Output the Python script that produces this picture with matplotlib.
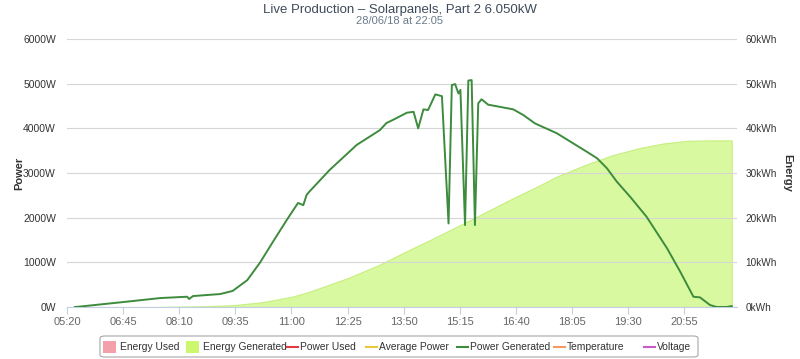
import matplotlib
matplotlib.use("Agg")
import matplotlib.pyplot as plt
from matplotlib.patches import FancyBboxPatch, Rectangle
from matplotlib.lines import Line2D

plt.rcParams['font.family'] = ['Liberation Sans', 'DejaVu Sans']

# ---- data ----
power_times = ["05:32", "05:40", "06:51", "07:41", "08:22", "08:25", "08:31", "09:12",
               "09:31", "09:53", "10:12", "10:32", "10:53", "11:10", "11:18", "11:23",
               "11:27", "11:58", "12:39", "13:14", "13:24", "13:34", "13:55", "14:05",
               "14:12", "14:20", "14:27", "14:38", "14:48", "14:58", "15:03", "15:08",
               "15:13", "15:16", "15:23", "15:28", "15:33", "15:38", "15:43", "15:48",
               "15:58", "16:36", "16:51", "17:09", "17:42", "18:27", "18:43", "18:58",
               "19:13", "19:33", "19:58", "20:29", "20:49", "21:09", "21:19", "21:34",
               "21:44", "21:59", "22:07"]
power_w = [0, 10, 120, 200, 230, 180, 245, 290,
           360, 600, 985, 1460, 1950, 2330, 2280, 2510,
           2580, 3070, 3630, 3960, 4120, 4190, 4350, 4370,
           4000, 4425, 4410, 4760, 4720, 1870, 4970, 4990,
           4780, 4860, 1835, 5070, 5080, 1835, 4560, 4650,
           4530, 4425, 4300, 4110, 3890, 3480, 3330, 3105,
           2805, 2470, 2020, 1315, 790, 230, 215, 45,
           0, 0, 20]

energy_times = ["07:41", "08:41", "09:31", "10:12", "10:32", "11:01", "11:27", "12:26",
                "13:14", "13:52", "14:30", "15:15", "15:46", "16:31", "17:17", "17:42",
                "18:25", "19:07", "19:48", "20:23", "20:59", "21:34", "22:07"]
energy_kwh = [0, 0.15, 0.4, 1.0, 1.5, 2.3, 3.4, 6.5,
              9.5, 12.3, 15.0, 18.3, 20.6, 24.0, 27.3, 29.2,
              31.8, 34.0, 35.6, 36.6, 37.2, 37.3, 37.3]

tick_labels = ["05:20", "06:45", "08:10", "09:35", "11:00", "12:25", "13:50",
               "15:15", "16:40", "18:05", "19:30", "20:55"]
power_ticks = [0, 1000, 2000, 3000, 4000, 5000, 6000]
energy_ticks = [0, 10, 20, 30, 40, 50, 60]

legend_items = ["Energy Used", "Energy Generated", "Power Used", "Average Power",
                "Power Generated", "Temperature", "Voltage"]
legend_colors = ["#f3a0aa", "#ccf76e", "#e33a3f", "#e8c93a", "#3d8b3d", "#f29a62", "#c65cc6"]
legend_kinds = ["patch", "patch", "line", "line", "line", "line", "line"]


def to_min(s):
    h, m = s.split(":")
    return int(h) * 60 + int(m)


pt = [to_min(s) for s in power_times]
et = [to_min(s) for s in energy_times]
tk = [to_min(s) for s in tick_labels]

fig = plt.figure(figsize=(8, 3.59), dpi=100)
ax = fig.add_axes([67 / 800, 52 / 359, 670 / 800, 268 / 359])
ax2 = ax.twinx()

# energy area on the right axis
ax2.fill_between(et, energy_kwh, 0, color="#d9f9a0", edgecolor="#c6ef7e", linewidth=0.8, zorder=1)
ax2.set_ylim(0, 60)
ax2.set_yticks(energy_ticks)
ax2.set_yticklabels([f"{v}kWh" for v in energy_ticks])

# power line on left axis drawn above
ax.set_zorder(ax2.get_zorder() + 1)
ax.patch.set_visible(False)
ax.plot(pt, power_w, color="#3d8b3d", linewidth=1.4, zorder=3)
ax.set_ylim(0, 6000)
ax.set_xlim(320, 1335)
ax.set_yticks(power_ticks)
ax.set_yticklabels([f"{v}W" for v in power_ticks])
ax.set_xticks(tk)
ax.set_xticklabels(tick_labels)

ax.grid(axis="y", color="#d6d6d6", linewidth=0.8)
ax.set_axisbelow(True)

for a in (ax, ax2):
    for s in a.spines.values():
        s.set_visible(False)
ax.spines["bottom"].set_visible(True)
ax.spines["bottom"].set_color("#c0d0e0")
ax.spines["bottom"].set_zorder(0)

ax.tick_params(axis="y", length=0, pad=8, labelsize=7.5, labelcolor="#333333")
ax2.tick_params(axis="y", length=0, pad=6, labelsize=7.2, labelcolor="#333333")
ax.tick_params(axis="x", length=5, color="#c0d0e0", pad=2, labelsize=8, labelcolor="#666666")

ax.set_ylabel("Power", fontsize=8, fontweight="bold", color="#333333", labelpad=-1)
fig.text(787 / 800, 1 - 173 / 359, "Energy", rotation=270, ha="center", va="center",
         fontsize=8, fontweight="bold", color="#333333")

fig.text(0.5, 1 - 10 / 359, "Live Production \u2013 Solarpanels, Part 2 6.050kW",
         ha="center", va="center", fontsize=9.5, color="#3e4a5a")
fig.text(0.5, 1 - 21.5 / 359, "28/06/18 at 22:05",
         ha="center", va="center", fontsize=8, color="#6a7a8a")

# legend drawn manually
box = FancyBboxPatch((100 / 800, (359 - 357) / 359), 598 / 800, 21 / 359,
                     boxstyle="round,pad=0,rounding_size=0.006",
                     transform=fig.transFigure, facecolor="white",
                     edgecolor="#a8a8a8", linewidth=0.8)
fig.add_artist(box)
sym_x = [103, 186, 287, 366, 457, 554, 644]
ycen = 1 - 346.5 / 359
for name, col, kind, x0 in zip(legend_items, legend_colors, legend_kinds, sym_x):
    if kind == "patch":
        fig.add_artist(Rectangle((x0 / 800, ycen - 6 / 359), 13 / 800, 12 / 359,
                                 transform=fig.transFigure, facecolor=col,
                                 edgecolor="none"))
        tx = x0 + 17
    else:
        fig.add_artist(Line2D([x0 / 800, (x0 + 11) / 800], [ycen, ycen],
                              transform=fig.transFigure, color=col, linewidth=1.5))
        tx = x0 + 13
    fig.text(tx / 800, ycen, name, ha="left", va="center", fontsize=7.4, color="#333333")

fig.savefig("out.png", dpi=100)
